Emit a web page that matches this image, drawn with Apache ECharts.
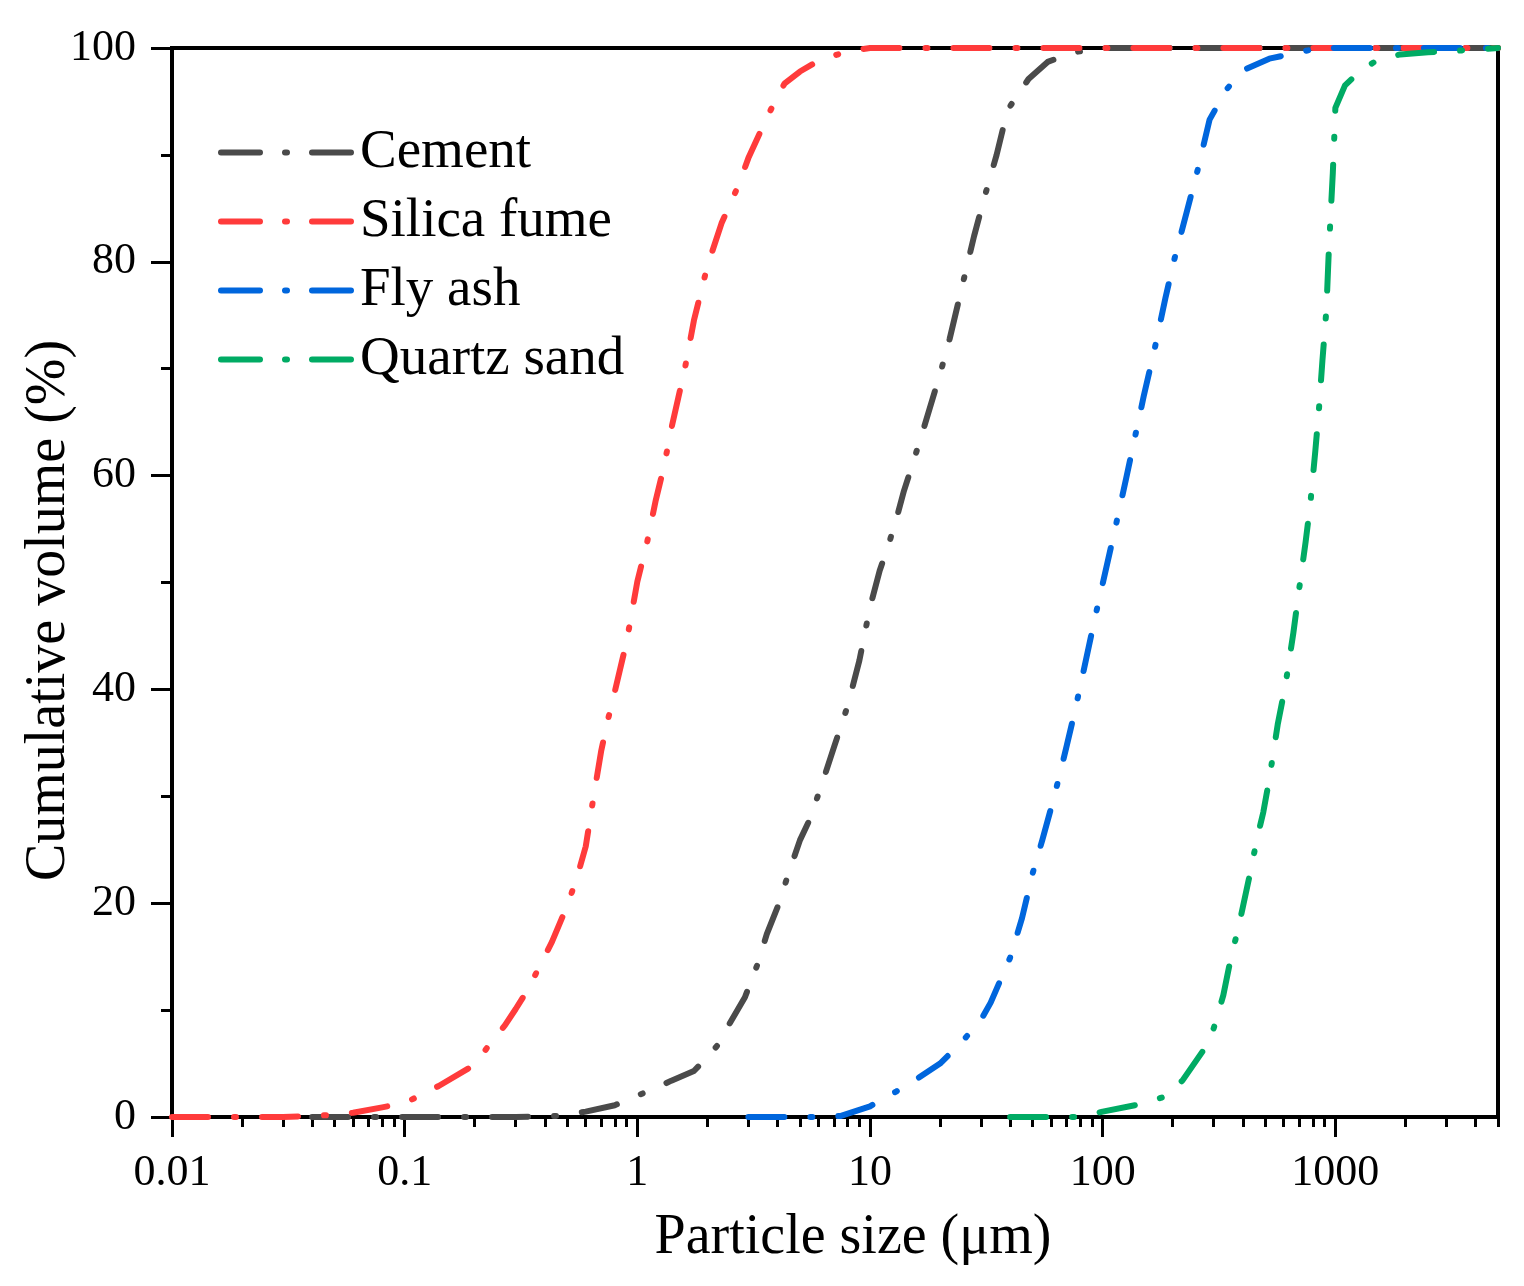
<!DOCTYPE html>
<html>
<head>
<meta charset="utf-8">
<script src="https://cdn.jsdelivr.net/npm/echarts@6/dist/echarts.min.js"></script>
<style>
  html, body { margin: 0; padding: 0; background: #fff; }
  #chart { width: 1524px; height: 1286px; }
</style>
</head>
<body>
<div id="chart"></div>
<script>
// particle size (um) / cumulative volume (%)
const cementSize = [0.04, 0.1, 0.2, 0.3, 0.45, 0.6, 0.8, 1.0, 1.2, 1.4, 1.75, 2.0, 2.25, 2.5, 2.9, 3.3, 3.6, 4.0, 4.5, 5.0, 5.5, 6.2, 7.0, 8.0, 9.0, 10, 11, 12, 13, 14, 15, 17, 20, 22, 25, 28, 31, 35, 39, 48, 58, 75, 100, 5000];
const cementVol  = [0, 0, 0, 0, 0.1, 0.5, 1.1, 2.0, 2.7, 3.4, 4.3, 5.6, 6.9, 8.8, 11.2, 14.4, 17.1, 19.6, 23.0, 25.9, 27.8, 31.1, 34.6, 38.4, 42.7, 47.7, 51.1, 53.5, 56.0, 58.6, 60.6, 64.4, 69.5, 72.8, 77.9, 82.4, 86.0, 90.0, 94.2, 97.1, 98.7, 99.6, 100, 100];

const silicaSize = [0.01, 0.02, 0.03, 0.04, 0.05, 0.06, 0.08, 0.1, 0.14, 0.2, 0.23, 0.27, 0.3, 0.34, 0.38, 0.43, 0.5, 0.55, 0.6, 0.65, 0.7, 0.75, 0.8, 0.9, 1.0, 1.1, 1.2, 1.3, 1.4, 1.5, 1.6, 1.75, 2.0, 2.3, 2.7, 3.0, 3.5, 4.0, 4.3, 5.0, 6.0, 8.0, 10, 5000];
const silicaVol  = [0, 0, 0, 0.1, 0.2, 0.4, 0.9, 1.3, 2.9, 4.9, 6.7, 8.6, 10.1, 12.0, 14.1, 16.4, 19.8, 22.4, 25.3, 30.1, 34.3, 37.3, 39.8, 44.5, 50.1, 53.7, 57.7, 60.8, 64.4, 67.3, 70.0, 74.5, 79.6, 83.6, 87.0, 89.7, 92.9, 95.5, 96.7, 97.8, 98.8, 99.7, 100, 100];

const flyAshSize = [3, 4, 5, 6, 7.5, 10, 13, 16, 20, 25, 30, 33, 36, 40, 45, 50, 55, 60, 65, 70, 76, 85, 92, 100, 113, 126, 137, 150, 167, 186, 203, 230, 256, 288, 340, 400, 520, 770, 900, 5000];
const flyAshVol  = [0, 0, 0, 0, 0.1, 1.0, 2.4, 3.6, 5.0, 7.1, 9.1, 10.7, 12.6, 14.9, 18.6, 22.8, 25.9, 28.9, 31.8, 34.7, 38.0, 42.9, 46.4, 49.9, 55.0, 59.7, 63.4, 67.4, 71.8, 76.6, 80.2, 84.7, 88.6, 93.3, 96.1, 97.9, 99.0, 99.8, 100, 100];

const quartzSize = [40, 60, 80, 100, 145, 185, 220, 270, 300, 330, 355, 380, 400, 435, 460, 490, 520, 565, 610, 660, 700, 745, 780, 820, 850, 880, 915, 935, 955, 975, 990, 1000, 1100, 1300, 1500, 1900, 2500, 3700, 5000];
const quartzVol  = [0, 0, 0, 0.5, 1.2, 1.9, 3.4, 6.2, 8.3, 11.4, 14.8, 17.4, 19.6, 23.3, 26.0, 28.5, 31.6, 36.7, 40.4, 45.3, 49.5, 53.8, 57.3, 62.3, 66.2, 70.8, 75.5, 80.5, 84.5, 88.3, 91.8, 94.4, 96.5, 98.0, 98.8, 99.4, 99.6, 99.8, 100];

const seriesNames  = ['Cement', 'Silica fume', 'Fly ash', 'Quartz sand'];
const seriesColors = ['#4a4a4a', '#ff3b3b', '#0066dd', '#00ab64'];

const xMajorTicks = [0.01, 0.1, 1, 10, 100, 1000];
const yTicks = [0, 20, 40, 60, 80, 100];

// minor ticks at 2..9 of every decade, up to the axis end
const xMinorTicks = [];
[0.01, 0.1, 1, 10, 100, 1000].forEach(function (d) {
  for (let k = 2; k <= 9; k++) {
    const v = +(d * k).toPrecision(3);
    if (v <= 5000) xMinorTicks.push(v);
  }
});

function pairs(xs, ys) {
  return xs.map(function (x, i) { return [x, ys[i]]; });
}

const curves = [
  pairs(cementSize, cementVol),
  pairs(silicaSize, silicaVol),
  pairs(flyAshSize, flyAshVol),
  pairs(quartzSize, quartzVol)
];

const font = 'Liberation Serif';
const chart = echarts.init(document.getElementById('chart'));

chart.setOption({
  backgroundColor: '#fff',
  animation: false,
  grid: {
    left: 172, top: 48, right: 26, bottom: 169,
    show: true, borderColor: '#000', borderWidth: 4, backgroundColor: 'transparent'
  },
  legend: {
    orient: 'vertical',
    left: 213, top: 120,
    itemWidth: 131, itemHeight: 20, itemGap: 14,
    data: seriesNames,
    itemStyle: { opacity: 0 },
    lineStyle: { width: 6, type: [39, 25, 2, 25], cap: 'round' },
    textStyle: { fontFamily: font, fontSize: 55, color: '#000', lineHeight: 55, padding: [0, 0, 0, 3] }
  },
  xAxis: [
    {
      type: 'log', logBase: 10, min: 0.01, max: 5000,
      name: 'Particle size (\u03bcm)',
      nameLocation: 'middle', nameGap: 93, nameMoveOverlap: false,
      nameTextStyle: { fontFamily: font, fontSize: 56, color: '#000', padding: [0, 0, 0, 36] },
      axisLine: { show: true, onZero: false, lineStyle: { color: '#000', width: 4 } },
      axisTick: { show: true, inside: false, length: 20, customValues: xMajorTicks, lineStyle: { color: '#000', width: 3 } },
      axisLabel: {
        customValues: xMajorTicks, margin: 34,
        fontFamily: font, fontSize: 44, color: '#000',
        formatter: function (v) { return String(v); }
      },
      splitLine: { show: false }
    },
    {
      type: 'log', logBase: 10, min: 0.01, max: 5000,
      position: 'bottom',
      axisLine: { show: false },
      axisTick: { show: true, inside: false, length: 10, customValues: xMinorTicks, lineStyle: { color: '#000', width: 3 } },
      axisLabel: { show: false },
      splitLine: { show: false }
    }
  ],
  yAxis: {
    type: 'value', min: 0, max: 100, interval: 20,
    name: 'Cumulative volume (%)',
    nameLocation: 'middle', nameGap: 95, nameMoveOverlap: false,
    nameTextStyle: { fontFamily: font, fontSize: 56, color: '#000', padding: [0, 56, 0, 0] },
    axisLine: { show: true, lineStyle: { color: '#000', width: 4 } },
    axisTick: { show: true, inside: false, length: 21, customValues: yTicks, lineStyle: { color: '#000', width: 3 } },
    minorTick: { show: true, splitNumber: 2, length: 11, lineStyle: { color: '#000', width: 3 } },
    axisLabel: { margin: 36, fontFamily: font, fontSize: 44, color: '#000' },
    splitLine: { show: false },
    minorSplitLine: { show: false }
  },
  series: curves.map(function (d, i) {
    return {
      name: seriesNames[i],
      type: 'line',
      xAxisIndex: 0,
      data: d,
      symbol: 'none',
      clip: false,
      color: seriesColors[i],
      lineStyle: { color: seriesColors[i], width: 6, type: [36, 26, 2, 26], cap: 'round', join: 'round' }
    };
  })
});
</script>
</body>
</html>
